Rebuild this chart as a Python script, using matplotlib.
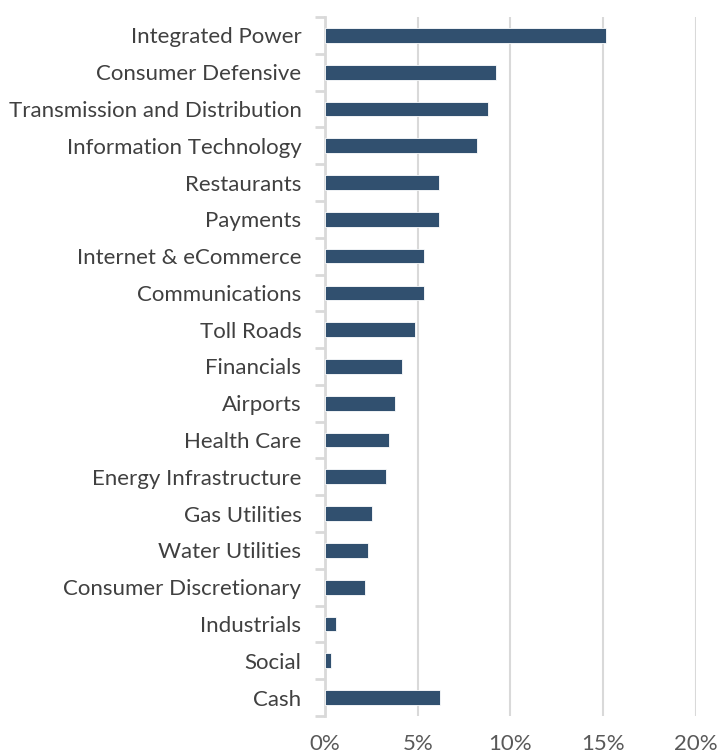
import numpy as np
import matplotlib.pyplot as plt
from matplotlib.ticker import FuncFormatter

# sector weights (%), top to bottom as shown
sectors = ['Integrated Power', 'Consumer Defensive', 'Transmission and Distribution',
           'Information Technology', 'Restaurants', 'Payments', 'Internet & eCommerce',
           'Communications', 'Toll Roads', 'Financials', 'Airports', 'Health Care',
           'Energy Infrastructure', 'Gas Utilities', 'Water Utilities',
           'Consumer Discretionary', 'Industrials', 'Social', 'Cash']
weights = [15.15, 9.22, 8.77, 8.18, 6.16, 6.15, 5.36, 5.32, 4.87, 4.15, 3.79,
           3.45, 3.29, 2.53, 2.34, 2.17, 0.61, 0.31, 6.18]
xticks = [0, 5, 10, 15, 20]

plt.rcParams['font.family'] = ['Lato', 'DejaVu Sans']

fig = plt.figure(figsize=(7.19, 7.55), dpi=100)
ax = fig.add_axes([0.452, 0.0517, 0.516, 0.9258])

y = np.arange(len(sectors))
ax.barh(y, weights, height=0.4, color='#31506F', edgecolor='white',
        linewidth=0.6, zorder=3)

ax.set_ylim(len(sectors) - 0.5, -0.5)
ax.set_xlim(0, 20)
ax.set_xticks(xticks)
ax.xaxis.set_major_formatter(FuncFormatter(lambda v, p: f'{v:.0f}%'))
ax.set_yticks(y)
ax.set_yticklabels(sectors)
ax.set_yticks(np.arange(len(sectors) + 1) - 0.5, minor=True)

ax.grid(axis='x', color='#D9D9D9', linewidth=1.5, zorder=0)
for s in ['top', 'right', 'bottom']:
    ax.spines[s].set_visible(False)
ax.spines['left'].set_color('#D9D9D9')
ax.spines['left'].set_linewidth(2)

ax.tick_params(axis='y', which='major', length=0, pad=17, labelsize=16,
               labelcolor='#404040')
ax.tick_params(axis='y', which='minor', length=7, width=2, color='#D9D9D9')
ax.tick_params(axis='x', length=0, pad=13, labelsize=16, labelcolor='#595959')

fig.savefig('out.png', dpi=100)
